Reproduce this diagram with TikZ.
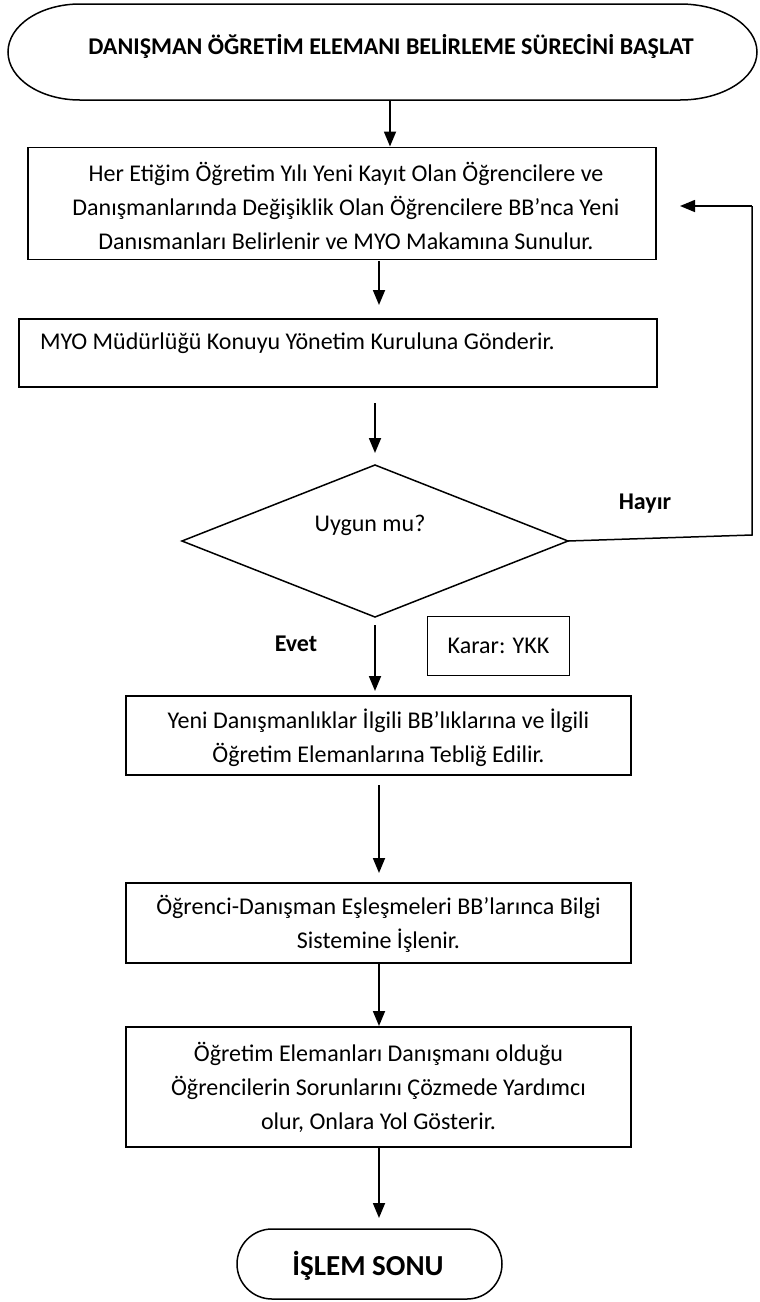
\documentclass[tikz,border=0pt]{standalone}
\usepackage{fontspec}
\setmainfont{Carlito}
\usetikzlibrary{arrows.meta,shapes.geometric}
\begin{document}
\begin{tikzpicture}[x=1pt,y=-1pt,
  every node/.style={inner sep=0pt,outer sep=0pt},
  procbox/.style={draw,line width=1.5pt,rectangle},
  txt/.style={font=\fontsize{24}{34}\selectfont,align=center},
  boldtxt/.style={font=\fontsize{24}{34}\selectfont\bfseries},
  arr/.style={line width=1.8pt,-{Triangle[length=15pt,width=12pt]}},
  loopline/.style={line width=1.5pt}]
\useasboundingbox (0,0) rectangle (760,1302);
\fill[white] (0,0) rectangle (760,1302);

% start terminator
\draw[line width=1.5pt] (82,4) -- (680,4)
  arc[start angle=-90,end angle=90,x radius=77,y radius=48]
  -- (80,100)
  arc[start angle=90,end angle=270,x radius=72,y radius=48] -- cycle;
\node[minimum width=749pt,minimum height=96pt] (start) at (382.5,52) {};
\node[boldtxt] (starttxt) at (391,46) {DANIŞMAN ÖĞRETİM ELEMANI BELİRLEME SÜRECİNİ BAŞLAT};

% process boxes
\node[procbox,minimum width=628pt,minimum height=112pt] (box1) at (342,203.5) {};
\node[txt] (box1txt) at (346,206) {Her Etiğim Öğretim Yılı Yeni Kayıt Olan Öğrencilere ve\\
Danışmanlarında Değişiklik Olan Öğrencilere BB’nca Yeni\\
Danısmanları Belirlenir ve MYO Makamına Sunulur.};

\node[procbox,minimum width=638pt,minimum height=68pt] (box2) at (338,353) {};
\node[txt,anchor=west] (box2txt) at (40,343) {MYO Müdürlüğü Konuyu Yönetim Kuruluna Gönderir.};

\node[draw,line width=1.5pt,diamond,aspect=2.54,minimum width=386pt,minimum height=152pt] (dia) at (375,541) {};
\node[txt] (diatxt) at (370,525) {Uygun mu?};

\node[boldtxt] (hayir) at (645,504) {Hayır};
\node[boldtxt] (evet) at (296,644) {Evet};

\node[procbox,minimum width=142pt,minimum height=59pt] (karar) at (498.5,646) {};
\node[txt] (karartxt) at (498.5,646) {Karar: YKK};

\node[procbox,minimum width=505pt,minimum height=79pt] (box3) at (378.5,735.5) {};
\node[txt] (box3txt) at (378.5,738) {Yeni Danışmanlıklar İlgili BB’lıklarına ve İlgili\\
Öğretim Elemanlarına Tebliğ Edilir.};

\node[procbox,minimum width=505pt,minimum height=80pt] (box4) at (378.5,923) {};
\node[txt] (box4txt) at (378.5,924) {Öğrenci-Danışman Eşleşmeleri BB’larınca Bilgi\\
Sistemine İşlenir.};

\node[procbox,minimum width=505pt,minimum height=120pt] (box5) at (378.5,1087) {};
\node[txt] (box5txt) at (378.5,1087) {Öğretim Elemanları Danışmanı olduğu\\
Öğrencilerin Sorunlarını Çözmede Yardımcı\\
olur, Onlara Yol Gösterir.};

% end terminator
\node[draw,line width=1.5pt,rectangle,rounded corners=35pt,minimum width=265pt,minimum height=70pt] (stop) at (369.5,1264) {};
\node[font=\fontsize{29}{34}\selectfont\bfseries] (stoptxt) at (368,1266) {İŞLEM SONU};

% connectors
\draw[arr,shorten >=1pt] (start.south -| 390,0) -- (box1.north -| 390,0);
\draw[arr,shorten >=14pt] (box2.north -| 379,0) ++(0,-58) -- (box2.north -| 379,0);
\draw[arr,shorten <=16pt,shorten >=12pt] (box2.south -| dia.north) -- (dia.north);
\draw[arr,shorten <=8pt,shorten >=5pt] (dia.south) -- (box3.north -| dia.south);
\draw[arr,shorten <=10pt,shorten >=10pt] (box3.south -| 379,0) -- (box4.north -| 379,0);
\draw[arr,shorten >=1pt] (box4.south -| 379,0) -- (box5.north -| 379,0);
\draw[arr,shorten >=11pt] (box5.south -| 379,0) -- (stop.north -| 379,0);

% loop back on "Hayır"
\coordinate (bend1) at (752,535);
\coordinate (bend2) at (752,206);
\coordinate (looptip) at (680,206);
\draw[loopline] (dia.east) -- (bend1) -- (bend2);
\draw[arr,line width=1.5pt] (bend2) -- (looptip);
\end{tikzpicture}
\end{document}
